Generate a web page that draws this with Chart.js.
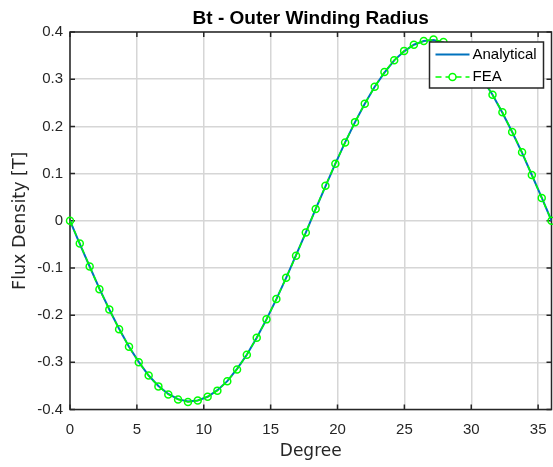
<!DOCTYPE html>
<html>
<head>
<meta charset="utf-8">
<script src="https://cdn.jsdelivr.net/npm/chart.js@4.4.1/dist/chart.umd.min.js"></script>
<style>
  html, body { margin: 0; padding: 0; background: #fff; }
  canvas { display: block; }
</style>
</head>
<body>
<canvas id="grafik" width="553" height="467"></canvas>
<script>
// angle positions (deg), same grid for both curves
const degree = [0, 0.73, 1.47, 2.20, 2.94, 3.67, 4.41, 5.14, 5.88, 6.61,
    7.35, 8.08, 8.82, 9.55, 10.29, 11.02, 11.76, 12.49, 13.22, 13.96,
    14.69, 15.43, 16.16, 16.90, 17.63, 18.37, 19.10, 19.84, 20.57, 21.31,
    22.04, 22.78, 23.51, 24.24, 24.98, 25.71, 26.45, 27.18, 27.92, 28.65,
    29.39, 30.12, 30.86, 31.59, 32.33, 33.06, 33.80, 34.53, 35.27, 36.00];

const analytical = [0, -0.049, -0.097, -0.144, -0.188, -0.229, -0.267, -0.299, -0.328, -0.350,
    -0.367, -0.378, -0.383, -0.381, -0.373, -0.359, -0.340, -0.314, -0.284, -0.248,
    -0.209, -0.166, -0.121, -0.073, -0.025, 0.025, 0.073, 0.121, 0.166, 0.209,
    0.248, 0.284, 0.314, 0.340, 0.359, 0.373, 0.381, 0.383, 0.378, 0.367,
    0.350, 0.328, 0.299, 0.267, 0.229, 0.188, 0.144, 0.097, 0.049, 0];

const fea = [0, -0.048, -0.097, -0.145, -0.188, -0.230, -0.267, -0.300, -0.328, -0.351,
    -0.368, -0.379, -0.384, -0.381, -0.373, -0.360, -0.340, -0.315, -0.284, -0.248,
    -0.209, -0.166, -0.121, -0.074, -0.025, 0.025, 0.074, 0.121, 0.166, 0.209,
    0.248, 0.284, 0.315, 0.340, 0.360, 0.373, 0.381, 0.384, 0.379, 0.368,
    0.351, 0.328, 0.300, 0.267, 0.230, 0.188, 0.145, 0.097, 0.048, 0];

const xTicks = [0, 5, 10, 15, 20, 25, 30, 35];
const yTicks = [-0.4, -0.3, -0.2, -0.1, 0, 0.1, 0.2, 0.3, 0.4];
const yTickLabels = ['-0.4', '-0.3', '-0.2', '-0.1', '0', '0.1', '0.2', '0.3', '0.4'];

const axisColor = '#262626';
const gridColor = '#d6d6d6';
const blue = '#0072BD';
const green = '#00FF00';
const sans = '"Liberation Sans", Arial, sans-serif';
const labelFont = '"DejaVu Sans", sans-serif';

// box around the axes + inward tick marks (matlab look)
const kotakAxes = {
    id: 'kotakAxes',
    beforeDatasetsDraw(chart) {
        const {ctx, chartArea: a, scales} = chart;
        ctx.save();
        ctx.strokeStyle = axisColor;
        ctx.lineWidth = 1.5;
        ctx.beginPath();
        xTicks.forEach(v => {
            const px = scales.x.getPixelForValue(v);
            ctx.moveTo(px, a.bottom); ctx.lineTo(px, a.bottom - 5);
            ctx.moveTo(px, a.top); ctx.lineTo(px, a.top + 5);
        });
        yTicks.forEach(v => {
            const py = scales.y.getPixelForValue(v);
            ctx.moveTo(a.left, py); ctx.lineTo(a.left + 5, py);
            ctx.moveTo(a.right, py); ctx.lineTo(a.right - 5, py);
        });
        ctx.stroke();
        ctx.strokeRect(a.left, a.top, a.right - a.left, a.bottom - a.top);
        ctx.restore();
    }
};

// legend box inside top-right of the plot
const legendaKanan = {
    id: 'legendaKanan',
    afterDraw(chart) {
        const {ctx, chartArea: a} = chart;
        const x0 = a.right - 122, y0 = a.top + 10, w = 114, h = 46;
        ctx.save();
        ctx.fillStyle = '#fff';
        ctx.fillRect(x0, y0, w, h);
        ctx.strokeStyle = axisColor;
        ctx.lineWidth = 1.5;
        ctx.strokeRect(x0, y0, w, h);

        const r1 = y0 + 12.5, r2 = y0 + 35;
        ctx.strokeStyle = blue;
        ctx.lineWidth = 2;
        ctx.beginPath();
        ctx.moveTo(x0 + 6, r1); ctx.lineTo(x0 + 40, r1);
        ctx.stroke();

        ctx.strokeStyle = green;
        ctx.lineWidth = 1.5;
        ctx.setLineDash([6, 4]);
        ctx.beginPath();
        ctx.moveTo(x0 + 6, r2); ctx.lineTo(x0 + 40, r2);
        ctx.stroke();
        ctx.setLineDash([]);
        ctx.fillStyle = '#fff';
        ctx.beginPath();
        ctx.arc(x0 + 23, r2, 3.5, 0, Math.PI * 2);
        ctx.fill();
        ctx.stroke();

        ctx.fillStyle = '#000';
        ctx.font = '15px ' + sans;
        ctx.textBaseline = 'middle';
        ctx.textAlign = 'left';
        ctx.fillText('Analytical', x0 + 43, r1);
        ctx.fillText('FEA', x0 + 43, r2);
        ctx.restore();
    }
};

const ctx = document.getElementById('grafik').getContext('2d');

new Chart(ctx, {
    type: 'line',
    data: {
        datasets: [{
                label: 'Analytical',
                data: degree.map((d, i) => ({x: d, y: analytical[i]})),
                borderColor: blue,
                borderWidth: 2,
                pointRadius: 0,
                fill: false,
                order: 1
            },
            {
                label: 'FEA',
                data: degree.map((d, i) => ({x: d, y: fea[i]})),
                borderColor: green,
                borderWidth: 1.5,
                borderDash: [6, 4],
                pointRadius: 3.5,
                pointBorderWidth: 1.5,
                pointBorderColor: green,
                pointBackgroundColor: 'rgba(0,0,0,0)',
                fill: false,
                clip: false,
                order: 0
            }
        ]
    },
    options: {
        responsive: false,
        devicePixelRatio: 1,
        animation: false,
        layout: {
            autoPadding: false,
            padding: {top: 0, right: 1.5, bottom: 0, left: 0}
        },
        plugins: {
            legend: {display: false},
            tooltip: {enabled: false},
            title: {
                display: true,
                text: 'Bt - Outer Winding Radius',
                fullSize: false,
                color: '#000',
                font: {family: sans, size: 19, weight: 'bold', lineHeight: 1.2},
                padding: {top: 7.5, bottom: 1.7}
            }
        },
        scales: {
            x: {
                type: 'linear',
                min: 0,
                max: 36,
                afterBuildTicks: s => { s.ticks = xTicks.map(v => ({value: v})); },
                afterFit: s => {
                    s.height = 57.5;
                    s.paddingLeft = 0;
                    s.paddingRight = 0;
                },
                grid: {color: gridColor, lineWidth: 1.5, drawTicks: false},
                border: {display: false},
                ticks: {
                    color: axisColor,
                    padding: 11,
                    maxRotation: 0,
                    font: {family: sans, size: 15}
                },
                title: {
                    display: true,
                    text: 'Degree',
                    color: axisColor,
                    font: {family: labelFont, size: 17, lineHeight: 1.2},
                    padding: {top: 0, bottom: 5}
                }
            },
            y: {
                min: -0.4,
                max: 0.4,
                afterBuildTicks: s => { s.ticks = yTicks.map(v => ({value: v})); },
                afterFit: s => { s.width = 70; },
                grid: {color: gridColor, lineWidth: 1.5, drawTicks: false},
                border: {display: false},
                ticks: {
                    color: axisColor,
                    padding: 7,
                    font: {family: sans, size: 15},
                    callback: (v, i) => yTickLabels[i]
                },
                title: {
                    display: true,
                    text: 'Flux Density [T]',
                    color: axisColor,
                    font: {family: labelFont, size: 17.5, lineHeight: 1.2},
                    padding: {top: 10, bottom: 0}
                }
            }
        }
    },
    plugins: [kotakAxes, legendaKanan]
});
</script>
</body>
</html>
